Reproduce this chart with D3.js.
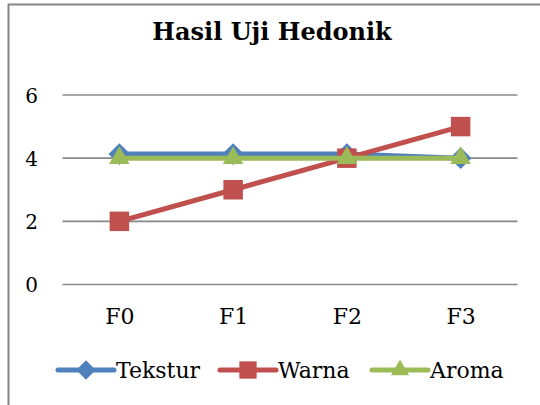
<!DOCTYPE html>
<html>
<head>
<meta charset="utf-8">
<script src="https://cdn.jsdelivr.net/npm/d3@7"></script>
<style>
  body { margin: 0; background: #fff; }
</style>
</head>
<body>
<script>
// Data
let categories = ["F0", "F1", "F2", "F3"];
let tekstur = [4.13, 4.13, 4.13, 4.0];
let warna = [2, 3, 4, 5];
let aroma = [4, 4, 4, 4];
let yTicks = [0, 2, 4, 6];
let seriesNames = ["Tekstur", "Warna", "Aroma"];

let width = 540;
let height = 405;
let font = "DejaVu Serif";

let series = [
  { name: seriesNames[0], values: tekstur, color: "#4F81BD", marker: d3.symbolDiamond2 },
  { name: seriesNames[1], values: warna, color: "#C0504D", marker: d3.symbolSquare },
  { name: seriesNames[2], values: aroma, color: "#9BBB59", marker: d3.symbolTriangle2 }
];

let svg = d3
  .select("body")
  .append("svg")
  .attr("width", width)
  .attr("height", height);

// Chart border (runs off the right and bottom edges)
svg
  .append("rect")
  .attr("x", 8.5)
  .attr("y", 4.5)
  .attr("width", 600)
  .attr("height", 600)
  .attr("fill", "#fff")
  .attr("stroke", "#868686")
  .attr("stroke-width", 2);

// Title
svg
  .append("text")
  .attr("x", 272)
  .attr("y", 40)
  .attr("text-anchor", "middle")
  .attr("font-family", font)
  .attr("font-size", 24)
  .attr("font-weight", "bold")
  .text("Hasil Uji Hedonik");

// Scales
let xScale = d3.scalePoint().domain(categories).range([62.5, 517.5]).padding(0.5);
let yScale = d3.scaleLinear().domain([0, 6]).range([284.5, 95]);

// Gridlines
svg
  .append("g")
  .selectAll("line")
  .data(yTicks)
  .enter()
  .append("line")
  .attr("x1", 62.5)
  .attr("x2", 517.5)
  .attr("y1", (d) => yScale(d))
  .attr("y2", (d) => yScale(d))
  .attr("stroke", "#888")
  .attr("stroke-width", 1.6);

// Y axis labels
let yAxis = d3
  .axisLeft(yScale)
  .tickValues(yTicks)
  .tickFormat(d3.format("d"))
  .tickSize(0)
  .tickPadding(0);
svg
  .append("g")
  .attr("transform", "translate(38,0)")
  .call(yAxis)
  .attr("font-family", font)
  .attr("font-size", 20)
  .call((g) => g.select(".domain").remove())
  .selectAll("text")
  .attr("fill", "#000")
  .attr("dy", "0.36em");

// X axis labels
let xAxis = d3.axisBottom(xScale).tickSize(0).tickPadding(0);
svg
  .append("g")
  .attr("transform", "translate(0,324)")
  .call(xAxis)
  .attr("font-family", font)
  .attr("font-size", 22)
  .call((g) => g.select(".domain").remove())
  .selectAll("text")
  .attr("fill", "#000")
  .attr("dy", 0);

// Lines and markers
let line = d3
  .line()
  .x((d, i) => xScale(categories[i]))
  .y((d) => yScale(d));

series.forEach((s) => {
  let g = svg.append("g");
  g.append("path")
    .attr("d", line(s.values))
    .attr("fill", "none")
    .attr("stroke", s.color)
    .attr("stroke-width", 5)
    .attr("stroke-linejoin", "round")
    .attr("stroke-linecap", "round");
  g.selectAll("path.marker")
    .data(s.values)
    .enter()
    .append("path")
    .attr("class", "marker")
    .attr("d", d3.symbol().type(s.marker).size(s.marker === d3.symbolSquare ? 380 : 300))
    .attr("transform", (d, i) => "translate(" + xScale(categories[i]) + "," + yScale(d) + ")")
    .attr("fill", s.color);
});

// Legend
let legendX = [58, 220, 372];
let legend = svg
  .append("g")
  .attr("font-family", font)
  .attr("font-size", 22)
  .selectAll("g")
  .data(series)
  .enter()
  .append("g")
  .attr("transform", (d, i) => "translate(" + legendX[i] + ",370)");

legend
  .append("line")
  .attr("x1", 0)
  .attr("x2", 56)
  .attr("stroke", (d) => d.color)
  .attr("stroke-width", 5)
  .attr("stroke-linecap", "round");

legend
  .append("path")
  .attr("transform", "translate(28,0)")
  .attr("d", (d) => d3.symbol().type(d.marker).size(d.marker === d3.symbolSquare ? 300 : 240)())
  .attr("fill", (d) => d.color);

legend
  .append("text")
  .attr("x", 58)
  .attr("y", 8)
  .text((d) => d.name);
</script>
</body>
</html>
